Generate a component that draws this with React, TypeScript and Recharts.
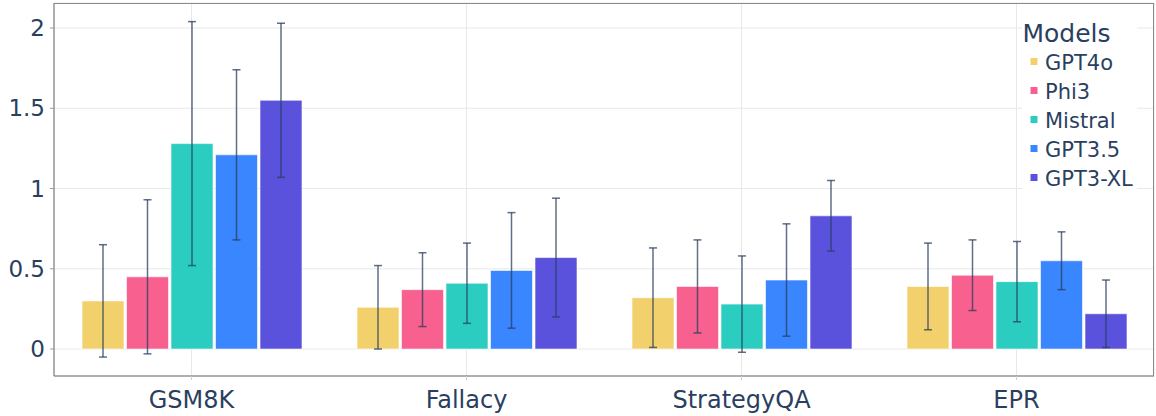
import React from "react";
import { BarChart, Bar, XAxis, YAxis, CartesianGrid, ErrorBar } from "recharts";

const categories = ["GSM8K", "Fallacy", "StrategyQA", "EPR"];
const models = ["GPT4o", "Phi3", "Mistral", "GPT3.5", "GPT3-XL"];
const colors = ["#F2D16C", "#F7608F", "#2BCDC1", "#3A86FF", "#5A52DC"];

const gpt4oValues = [0.3, 0.26, 0.32, 0.39];
const gpt4oErrors = [0.35, 0.26, 0.31, 0.27];
const phi3Values = [0.45, 0.37, 0.39, 0.46];
const phi3Errors = [0.48, 0.23, 0.29, 0.22];
const mistralValues = [1.28, 0.41, 0.28, 0.42];
const mistralErrors = [0.76, 0.25, 0.3, 0.25];
const gpt35Values = [1.21, 0.49, 0.43, 0.55];
const gpt35Errors = [0.53, 0.36, 0.35, 0.18];
const gpt3xlValues = [1.55, 0.57, 0.83, 0.22];
const gpt3xlErrors = [0.48, 0.37, 0.22, 0.21];

const yTicks = [0, 0.5, 1, 1.5, 2];

const seriesValues = [gpt4oValues, phi3Values, mistralValues, gpt35Values, gpt3xlValues];
const seriesErrors = [gpt4oErrors, phi3Errors, mistralErrors, gpt35Errors, gpt3xlErrors];

const data = categories.map((c, i) => {
  const row: Record<string, any> = { name: c };
  models.forEach((m, k) => {
    row[`v${k}`] = seriesValues[k][i];
    row[`e${k}`] = seriesErrors[k][i];
  });
  return row;
});

const FONT = "DejaVu Sans, sans-serif";
const TEXT = "#2a3f5f";

export default function App() {
  return (
    <div style={{ position: "absolute", left: 0, top: 0, width: 1156, height: 416, background: "#fff" }}>
      <BarChart
        width={1156}
        height={416}
        data={data}
        margin={{ top: 3, right: 2, left: 0, bottom: 0 }}
        barCategoryGap={28}
        barGap={2.5}
      >
        <CartesianGrid stroke="#e8e8e8" strokeWidth={1} />
        <XAxis
          dataKey="name"
          height={40}
          tickSize={4}
          tickMargin={11}
          axisLine={{ stroke: "#6b6b6b" }}
          tickLine={{ stroke: "#cfcfcf" }}
          tick={{ fill: TEXT, fontSize: 24, fontFamily: FONT }}
        />
        <YAxis
          width={54}
          domain={[-0.168, 2.156]}
          ticks={yTicks}
          allowDataOverflow
          type="number"
          tickFormatter={(v: number) => String(v)}
          tickSize={4}
          tickMargin={5}
          axisLine={{ stroke: "#6b6b6b" }}
          tickLine={{ stroke: "#9a9a9a" }}
          tick={{ fill: TEXT, fontSize: 23, fontFamily: FONT }}
        />
        {models.map((m, k) => (
          <Bar
            key={m}
            dataKey={`v${k}`}
            name={m}
            fill={colors[k]}
            stroke="#ffffff"
            strokeOpacity={0.6}
            strokeWidth={1}
            isAnimationActive={false}
          >
            <ErrorBar
              dataKey={`e${k}`}
              direction="y"
              width={4}
              stroke={TEXT}
              strokeWidth={1.5}
              strokeOpacity={0.75}
            />
          </Bar>
        ))}
      </BarChart>
      <div
        style={{
          position: "absolute",
          left: 54,
          top: 3,
          width: 1100,
          height: 373,
          borderTop: "1px solid #8a8a8a",
          borderRight: "1px solid #8a8a8a",
          boxSizing: "border-box",
          pointerEvents: "none",
        }}
      />
      <svg
        width={1156}
        height={416}
        style={{ position: "absolute", left: 0, top: 0, pointerEvents: "none" }}
      >
        <rect x={1022} y={17} width={115} height={175} fill="#ffffff" />
        <text x={1022.5} y={42} fontSize={25} fontFamily={FONT} fill={TEXT}>
          Models
        </text>
        {models.map((m, k) => {
          const base = 70 + k * 29;
          return (
            <g key={m}>
              <rect x={1030.5} y={base - 12} width={7} height={7} fill={colors[k]} />
              <text x={1045} y={base} fontSize={21} fontFamily={FONT} fill={TEXT}>
                {m}
              </text>
            </g>
          );
        })}
      </svg>
    </div>
  );
}
